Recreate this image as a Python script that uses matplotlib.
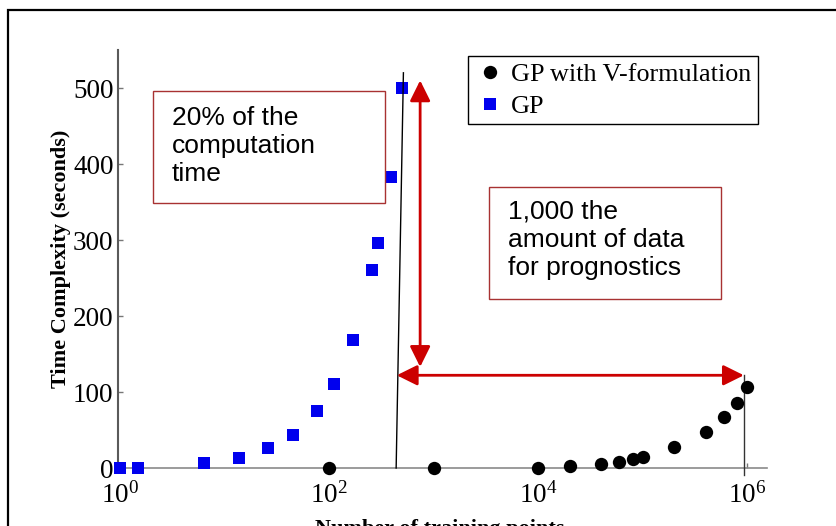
import matplotlib
matplotlib.use("Agg")
import matplotlib.pyplot as plt
from matplotlib.patches import Rectangle, FancyArrowPatch
from matplotlib.ticker import LogFormatterMathtext, NullLocator

# ---- data -------------------------------------------------------------
gp_points = [1, 1.5, 6.4, 13.6, 26, 45, 77, 112, 170, 260, 296, 389, 495]
gp_time = [0, 0, 6, 13, 26, 44, 75, 111, 168, 260, 296, 383, 500]

vgp_points = [100, 1000, 1e4, 2e4, 4e4, 6e4, 8e4, 1e5, 2e5, 4e5, 6e5, 8e5, 1e6]
vgp_time = [0, 0, 0.5, 2.6, 5, 8, 11.5, 15, 28, 48, 67.5, 86, 106]

x_ticks = [1e0, 1e2, 1e4, 1e6]
y_ticks = [0, 100, 200, 300, 400, 500]

series_labels = ["GP with V-formulation", "GP"]
note_time = "20% of the\ncomputation\ntime"
note_data = "1,000 the\namount of data\nfor prognostics"

# reference markers drawn over the data
gp_limit_line = ([514, 438], [520, 0])          # thin line at the GP limit
vgp_limit_line = ([9.3e5, 9.3e5], [122, -9])    # thin line at the V-formulation limit
time_arrow = ((743, 510), (743, 133))
data_arrow = ((444, 122), (9.3e5, 122))

# ---- style ------------------------------------------------------------
plt.rcParams["font.family"] = "serif"
plt.rcParams["font.serif"] = ["Liberation Serif", "DejaVu Serif"]
plt.rcParams["mathtext.fontset"] = "stix"

W, H = 836, 526
fig = plt.figure(figsize=(W / 100, H / 100), dpi=100)


def fx(px):
    return px / W


def fy(py):
    return 1 - py / H


ax = fig.add_axes([fx(118), fy(468), (767 - 118) / W, (468 - 50) / H])

red = "#cc0000"
box_red = "#a83232"

ax.plot(vgp_points, vgp_time, linestyle="none", marker="o", ms=9.6,
        color="black", mew=0, label=series_labels[0], zorder=4, clip_on=False)
ax.plot(gp_points, gp_time, linestyle="none", marker="s", ms=8.6,
        color="#0000ee", mew=0, label=series_labels[1], zorder=4, clip_on=False)

ax.set_xscale("log")
ax.set_xlim(10 ** -0.02, 10 ** 6.19)
ax.set_ylim(0, 550)

ax.set_xticks(x_ticks)
ax.xaxis.set_major_formatter(LogFormatterMathtext())
ax.xaxis.set_minor_locator(NullLocator())
ax.set_yticks(y_ticks)

for side in ("top", "right"):
    ax.spines[side].set_visible(False)
ax.spines["left"].set_color("#5a5a5a")
ax.spines["left"].set_linewidth(1.5)
ax.spines["bottom"].set_color("#8a8a8a")
ax.spines["bottom"].set_linewidth(1.2)

ax.tick_params(axis="both", direction="in", length=3.5, width=1,
               color="#777777", labelsize=19.5)
ax.tick_params(axis="y", pad=3.2)
ax.tick_params(axis="x", pad=10)

ax.set_ylabel("Time Complexity (seconds)", fontsize=16, fontweight="bold")
ax.yaxis.set_label_coords((71 - 118) / 649, 0.5)
ax.set_xlabel("Number of training points", fontsize=16, fontweight="bold")
ax.xaxis.set_label_coords((440 - 118) / 649, (468 - 519) / 418)

# thin limit lines
ax.plot(*gp_limit_line, color="black", lw=1.0, zorder=5, clip_on=False)
ax.plot(*vgp_limit_line, color="#333333", lw=1.0, zorder=3, clip_on=False)

# red double-headed arrows
for start, end in (time_arrow, data_arrow):
    arr = FancyArrowPatch(start, end, arrowstyle="<|-|>,head_length=1.25,head_width=0.62",
                          mutation_scale=10, color=red, lw=2.0,
                          shrinkA=0, shrinkB=0, zorder=6, clip_on=False)
    ax.add_patch(arr)

# annotation boxes
sans = ["Liberation Sans", "DejaVu Sans"]
fig.patches.append(Rectangle((fx(152.7), fy(203)), (385 - 152.7) / W, (203 - 90.7) / H,
                             transform=fig.transFigure, facecolor="white",
                             edgecolor=box_red, lw=1.0, zorder=7))
fig.text(fx(171.5), fy(106), note_time, family=sans,
         fontsize=19, va="top", ha="left", linespacing=1.22, zorder=8)

fig.patches.append(Rectangle((fx(489), fy(299.3)), (720.7 - 489) / W, (299.3 - 186.7) / H,
                             transform=fig.transFigure, facecolor="white",
                             edgecolor=box_red, lw=1.0, zorder=7))
fig.text(fx(508.5), fy(200), note_data, family=sans,
         fontsize=19, va="top", ha="left", linespacing=1.22, zorder=8)

# legend
leg = ax.legend(loc="upper left", bbox_to_anchor=(fx(468), fy(56)),
                bbox_transform=fig.transFigure, borderaxespad=0,
                frameon=True, fancybox=False, framealpha=1, edgecolor="black",
                fontsize=18.8, handlelength=1.2, handletextpad=0.2,
                borderpad=0.25, labelspacing=0.34, markerscale=1.0)
leg.get_frame().set_linewidth(1.0)

# outer frame around the figure
fig.patches.append(Rectangle((fx(8), -0.2), 1.5, fy(10) + 0.2,
                             transform=fig.transFigure, fill=False,
                             edgecolor="black", lw=1.6, zorder=10))

fig.savefig("out.png", dpi=100)
